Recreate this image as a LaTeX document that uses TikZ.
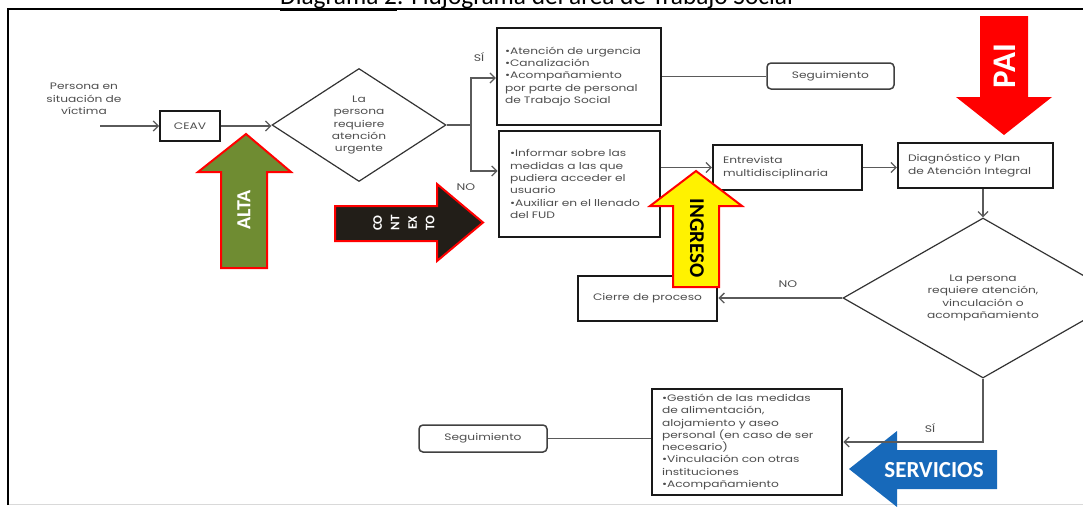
\documentclass[tikz,border=0pt]{standalone}
\usepackage{fontspec}
\setmainfont{Poppins}[FakeStretch=1.3]
\newfontfamily\calib{Carlito}
\usetikzlibrary{arrows.meta,shapes.geometric}
\definecolor{txtgray}{HTML}{4E4E4E}
\definecolor{linegray}{HTML}{5A5A5A}
\definecolor{altagreen}{HTML}{6F8C32}
\definecolor{ctxblack}{HTML}{221E18}
\definecolor{servblue}{HTML}{1769BA}
\tikzset{
  plain/.style={inner sep=0pt, text=txtgray, font=\fontsize{9.4}{12.3}\selectfont},
  stepbox/.style={draw=black!90, fill=white, inner ysep=0pt, text=txtgray, font=\fontsize{9.4}{12.3}\selectfont, align=left},
  segbox/.style={draw=black!75, rounded corners=4pt, line width=1.5pt, fill=white, inner sep=0pt, text=txtgray, font=\fontsize{9.4}{12.3}\selectfont},
  decide/.style={diamond, draw=black!80, line width=1.2pt, inner sep=0pt, align=center, text=txtgray, font=\fontsize{9.4}{12.3}\selectfont},
  conn/.style={draw=linegray, line width=1.3pt},
  arr/.style={conn, -{Straight Barb[length=5pt,width=10pt]}},
  lbl/.style={inner sep=0pt, text=txtgray, font=\fontsize{9.6}{11}\selectfont},
  bigtxt/.style={inner sep=0pt, font=\calib\bfseries},
  bigarrow/.style={line width=2pt, line join=miter}
}
\begin{document}
\begin{tikzpicture}[x=1pt,y=-1pt]
\useasboundingbox (0,0) rectangle (1083,506);
% frame and title
\draw[black!15, line width=1pt] (8,504.5) -- (1083,504.5);
\draw[black, line width=1.6pt] (8,505) -- (8,9) -- (1083,9);
\node[anchor=base west, inner sep=0pt, font=\calib\fontsize{25.3}{27}\selectfont] (title) at (280,4.5) {\underline{Diagrama 2}: Flujograma del área de Trabajo Social};

% nodes
\node[plain, align=center] (victim) at (84,99) {Persona en\\situación de\\víctima};
\coordinate (vin) at (100,126);
\node[stepbox, line width=1.8pt, minimum width=60pt, minimum height=30pt, align=center, inner xsep=0pt] (ceav) at (190,126) {CEAV};
\node[decide, minimum width=174pt, minimum height=113pt, aspect=1.54] (d1) at (359,125) {La\\persona\\requiere\\atención\\urgente};
\coordinate (br) at (471,125);
\node[stepbox, line width=2.2pt, inner xsep=8pt, text width=148pt, minimum height=97pt] (b1) at (579,76.5) {•Atención de urgencia\\•Canalización\\•Acompañamiento\\por parte de personal\\de Trabajo Social};
\node[stepbox, line width=2.8pt, inner xsep=11pt, text width=139pt, minimum height=106pt] (b2) at (579.5,184) {•Informar sobre las\\medidas a las que\\pudiera acceder el\\usuario\\•Auxiliar en el llenado\\del FUD};
\node[segbox, minimum width=127pt, minimum height=26pt] (seg1) at (830.5,76) {Seguimiento};
\node[stepbox, line width=2.2pt, inner xsep=10pt, text width=129pt, minimum height=45pt] (ent) at (787.5,167.5) {Entrevista\\multidisciplinaria};
\node[stepbox, line width=2.2pt, inner xsep=10pt, text width=135pt, minimum height=45pt] (diag) at (975.5,165.5) {Diagnóstico y Plan\\de Atención Integral};
\node[decide, minimum width=280pt, minimum height=160pt, aspect=1.75] (d2) at (983,298) {La persona\\requiere atención,\\vinculación o\\acompañamiento};
\node[stepbox, line width=2.8pt, minimum width=139pt, minimum height=45pt, align=center, inner xsep=0pt] (cierre) at (647.5,298.5) {Cierre de proceso};
\node[stepbox, line width=2.5pt, inner xsep=10pt, text width=170pt, minimum height=106pt] (serv) at (747,442) {•Gestión de las medidas\\de alimentación,\\alojamiento y aseo\\personal (en caso de ser\\necesario)\\•Vinculación con otras\\instituciones\\•Acompañamiento};
\node[segbox, minimum width=128pt, minimum height=27pt] (seg2) at (483,438.5) {Seguimiento};

% connectors
\draw[arr] (vin) -- (ceav.west);
\draw[arr] (ceav.east) -- (ceav.east -| d1.west);
\draw[conn] (d1.east) -- (br);
\draw[arr] (br) |- ([yshift=-1.5pt]b1.west);
\draw[arr] (br) |- ([yshift=13pt]b2.west);
\node[lbl] (si1) at (479,57) {SÍ};
\node[lbl] (no1) at (466,187) {NO};
\draw[conn] (b1.east) -- (b1.east -| seg1.west);
\draw[arr] (b2.east |- ent.west) -- (ent.west);
\draw[arr] (ent.east) -- (ent.east -| diag.west);
\draw[arr] (diag.south -| d2.north) -- (d2.north);
\draw[arr] (d2.west) -- (d2.west -| cierre.east);
\node[lbl] (no2) at (788,284) {NO};

% big arrows
\draw[bigarrow, draw=red, fill=altagreen] (246,134) -- (291,172) -- (267,172) -- (267,268) -- (221,268) -- (221,172) -- (198,172) -- cycle;
\node[bigtxt, text=white, rotate=90, font=\calib\bfseries\fontsize{20}{20}\selectfont] (alta) at (244,210) {ALTA};
\draw[bigarrow, draw=red, fill=ctxblack] (335,206) -- (437,206) -- (437,184) -- (483,222.5) -- (437,261) -- (437,241) -- (335,241) -- cycle;
\node[bigtxt, text=white, rotate=90, align=center, font=\calib\bfseries\fontsize{13}{17.5}\selectfont] (ctx) at (404,223) {CO\\NT\\EX\\TO};
\draw[bigarrow, draw=red, fill=yellow] (696,171) -- (742,206) -- (719,206) -- (719,287) -- (673,287) -- (673,206) -- (650,206) -- cycle;
\node[bigtxt, text=black, rotate=-90, font=\calib\bfseries\fontsize{21}{21}\selectfont] (ingreso) at (697,238) {INGRESO};
\fill[red] (980,16) -- (1028,16) -- (1028,97) -- (1052,97) -- (1004,135) -- (956,97) -- (980,97) -- cycle;
\node[bigtxt, text=white, rotate=90, font=\calib\bfseries\fontsize{33}{33}\selectfont] (pai) at (1005,66) {PAI};
\fill[servblue] (849,469) -- (897,431) -- (897,450) -- (997,450) -- (997,489) -- (897,489) -- (897,507) -- cycle;
\node[bigtxt, text=white, font=\calib\bfseries\fontsize{23}{23}\selectfont] (servicios) at (934,470) {SERVICIOS};

% lower connectors
\draw[arr] (d2.south) |- (serv.east);
\node[lbl] (si2) at (930,428) {SÍ};
\draw[conn] (seg2.east) -- (seg2.east -| serv.west);
\end{tikzpicture}
\end{document}
